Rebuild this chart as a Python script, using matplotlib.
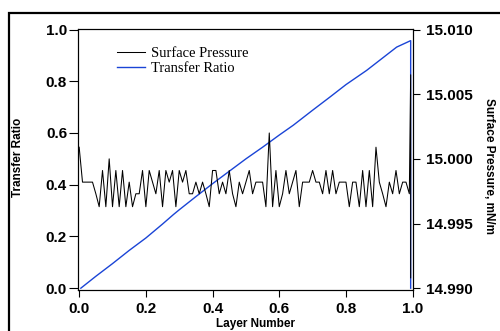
import matplotlib
matplotlib.use("Agg")
import matplotlib.pyplot as plt
from matplotlib.patches import Rectangle
import numpy as np

# Transfer ratio (left axis)
ratio_x = [0.005, 0.05, 0.10, 0.15, 0.20, 0.25, 0.283, 0.30, 0.35, 0.40, 0.45,
           0.50, 0.55, 0.60, 0.642, 0.70, 0.752, 0.80, 0.862, 0.90, 0.952,
           0.994, 0.994]
ratio_y = [0.0, 0.046, 0.095, 0.146, 0.194, 0.248, 0.285, 0.303, 0.354, 0.404,
           0.452, 0.500, 0.545, 0.592, 0.630, 0.688, 0.739, 0.787, 0.842,
           0.880, 0.932, 0.957, 0.0]

# Surface pressure (right axis), one value per layer step of 0.01
pressure = [
    15.0009, 14.9982, 14.9982, 14.9982, 14.9982, 14.9973, 14.9963, 14.9991,
    14.9963, 15.0000, 14.9963, 14.9991, 14.9963, 14.9991, 14.9963, 14.9982,
    14.9963, 14.9973, 14.9973, 14.9991, 14.9963, 14.9991, 14.9982, 14.9973,
    14.9991, 14.9963, 14.9991, 14.9982, 14.9991, 14.9963, 14.9991, 14.9982,
    14.9991, 14.9973,
    14.9973, 14.9982, 14.9973, 14.9982, 14.9973, 14.9963, 14.9991, 14.9991,
    14.9973, 14.9982, 14.9973, 14.9991, 14.9973, 14.9963, 14.9982, 14.9973,
    14.9982, 14.9991, 14.9973, 14.9982, 14.9982, 14.9982, 14.9963, 15.0020,
    14.9963, 14.9991, 14.9963, 14.9973, 14.9991, 14.9973, 14.9982, 14.9991,
    14.9963, 14.9982, 14.9982, 14.9982, 14.9991, 14.9982, 14.9982, 14.9973,
    14.9991, 14.9973, 14.9991, 14.9973, 14.9982, 14.9982, 14.9982, 14.9963,
    14.9982, 14.9982, 14.9963, 14.9991, 14.9963, 14.9991, 14.9963, 15.0009,
    14.9982, 14.9973, 14.9963, 14.9982, 14.9973, 14.9991, 14.9973, 14.9982,
    14.9982, 14.9973,
]
pressure_end_x = [0.994, 0.994]
pressure_end = [15.0065, 14.9908]

left_ticks = [0.0, 0.2, 0.4, 0.6, 0.8, 1.0]
right_ticks = [14.990, 14.995, 15.000, 15.005, 15.010]
x_ticks = [0.0, 0.2, 0.4, 0.6, 0.8, 1.0]

layer_x = list(np.round(np.arange(len(pressure)) * 0.01, 2)) + pressure_end_x
pressure_y = pressure + pressure_end

fig = plt.figure(figsize=(5.0, 3.31), dpi=100)
ax = fig.add_axes([0.155, 0.1239, 0.671, 0.7885])
ax2 = ax.twinx()

blue = "#1a44d6"
l_ratio, = ax.plot(ratio_x, ratio_y, color=blue, lw=1.0)
l_press, = ax2.plot(layer_x, pressure_y, color="black", lw=0.75)

ax.set_xlim(-0.005, 1.001)
ax.set_ylim(-0.007, 1.002)
ax2.set_ylim(14.990 - 0.02 * 0.007, 14.990 + 0.02 * 1.002)

tick_font = dict(family="Liberation Sans", weight="bold", size=11)

ax.set_xticks(x_ticks)
ax.set_xticklabels(["%.1f" % v for v in x_ticks], **tick_font)
ax.set_yticks(left_ticks)
ax.set_yticklabels(["%.1f" % v for v in left_ticks], **tick_font)
ax2.set_yticks(right_ticks)
ax2.set_yticklabels(["%.3f" % v for v in right_ticks], **tick_font)

ax.tick_params(axis="x", direction="out", length=5, width=0.8, pad=4)
ax.tick_params(axis="y", direction="out", length=6.5, width=0.8, pad=1)
ax2.tick_params(axis="y", direction="out", length=5, width=0.8, pad=4)

for a in (ax, ax2):
    for s in a.spines.values():
        s.set_linewidth(0.8)

lab_font = dict(family="Liberation Sans", weight="bold")
fig.text(0.036, 0.526, "Transfer Ratio", rotation=90, ha="center", va="center",
         size=8.5, **lab_font)
fig.text(0.978, 0.4985, "Surface Pressure, mN/m", rotation=-90, ha="center",
         va="center", size=8.5, **lab_font)
fig.text(0.51, 0.003, "Layer Number", ha="center", va="bottom", size=8.5,
         **lab_font)

ax.legend([l_press, l_ratio], ["Surface Pressure", "Transfer Ratio"],
          loc="upper left", bbox_to_anchor=(117 / 500, 1 - 47 / 331),
          bbox_transform=fig.transFigure, frameon=False, borderpad=0,
          borderaxespad=0, handlelength=1.9, handletextpad=0.45,
          labelspacing=0.1, prop=dict(family="Liberation Serif", size=10.5))

# outer frame running off the right and bottom edges
fig.patches.append(Rectangle((9 / 500, -0.1), 1.2, 1 - 12.7 / 331 + 0.1,
                             transform=fig.transFigure, fill=False,
                             edgecolor="black", lw=1.6))

fig.savefig("out.png", dpi=100)
